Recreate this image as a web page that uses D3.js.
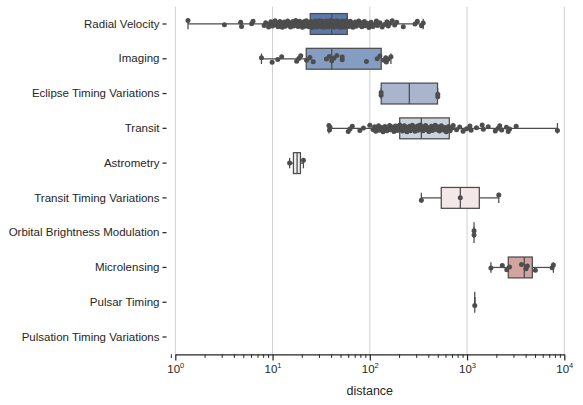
<!DOCTYPE html>
<html>
<head>
<meta charset="utf-8">
<script src="https://cdn.jsdelivr.net/npm/d3@7"></script>
<style>
  body { margin: 0; background: #fff; }
  svg { font-family: "Liberation Sans", Arial, sans-serif; }
</style>
</head>
<body>
<div id="chart"></div>
<script>

//************************  data *************************

var methods = ["Radial Velocity", "Imaging", "Eclipse Timing Variations", "Transit",
    "Astrometry", "Transit Timing Variations", "Orbital Brightness Modulation",
    "Microlensing", "Pulsar Timing", "Pulsation Timing Variations"];

var boxColors = ["#5b79a9", "#859dc3", "#a8b5cd", "#cbd2e0", "#eeeeee",
    "#f3e7e7", "#ecd4d3", "#d2a3a1", "#c07f7d", "#b05e5c"];

// box stats (whiskers span min..max)
var whiskerLo = [1.35, 7.69, 130.72, 38, 14.98, 339, 1180, 1760, 1200, null];
var quart1    = [24.4, 22.2, 131, 203, 16.4, 543, 1180, 2654, 1200, null];
var medians   = [40.6, 40.6, 255, 339, 17.88, 853, 1180, 3878, 1200, null];
var quart3    = [58.7, 131, 497, 657, 19.35, 1337, 1180, 4690, 1200, null];
var whiskerHi = [354, 165, 500, 8500, 20.77, 2119, 1180, 7720, 1200, null];

// strip points (distance, parsecs)
var rvDist = [1.35, 3.2, 4.7, 4.8, 6.1, 6.3, 8.2, 8.5, 9.1, 9.3, 9.6, 10.0, 10.3, 10.6,
    10.9, 11.1, 11.4, 11.6, 11.9, 12.1, 12.4, 12.6, 13.0, 13.2, 13.5, 14.0, 14.3, 14.6,
    15.1, 15.3, 15.6, 16.2, 16.5, 16.8, 17.3, 17.6, 17.9, 18.3, 18.7, 19.0, 19.4, 19.7,
    20.3, 20.6, 21.0, 21.6, 21.9, 22.2, 23.0, 23.3, 23.6, 24.1, 24.6, 25.0, 25.3, 25.5,
    26.0, 26.4, 26.7, 27.0, 27.5, 27.8, 28.0, 28.5, 28.8, 29.0, 29.6, 30.1, 30.4, 30.6,
    31.1, 31.7, 32.0, 32.2, 32.8, 33.4, 33.7, 34.0, 34.6, 35.2, 35.5, 35.8, 36.4, 37.0,
    37.3, 37.6, 38.1, 38.7, 39.2, 39.5, 39.8, 40.3, 40.9, 41.5, 41.8, 42.1, 42.7, 43.4,
    43.7, 44.0, 44.6, 45.3, 45.6, 46.0, 46.6, 47.3, 47.6, 48.0, 48.7, 49.4, 49.8, 50.1,
    50.9, 51.6, 52.0, 52.4, 53.2, 54.0, 54.4, 54.8, 55.6, 56.5, 57.0, 57.4, 58.3, 59.5,
    61, 62, 63, 65, 66, 67, 69, 71, 72, 74, 77, 79, 80, 83, 86, 88, 90, 94, 98, 101,
    103, 108, 114, 117, 120, 127, 134, 142, 150, 155, 160, 170, 180, 189, 221, 292, 308,
    340, 354];
var imagingDist = [7.69, 9.9, 11.3, 12.4, 17.7, 18.6, 19.5, 22.4, 24.2, 26.2, 35.8, 38.3,
    40.6, 42.9, 45.8, 52.0, 52.0, 92.3, 119, 127, 140, 146, 148, 154, 165];
var etvDist = [130.72, 130.72, 500, 500];
var transitDist = [38, 38.5, 39, 60, 62.6, 66, 79, 86, 100, 108, 112, 115, 120, 123, 126,
    131, 137, 140, 143, 150, 156, 160, 163, 170, 177, 180, 184, 191, 198, 203, 207, 213,
    217, 220, 227, 234, 238, 241, 249, 257, 261, 265, 274, 283, 288, 292, 301, 310, 315,
    320, 330, 337, 345, 352, 360, 375, 382, 390, 405, 420, 430, 440, 460, 470, 480, 500,
    520, 530, 545, 570, 595, 610, 620, 645, 670, 700, 720, 780, 840, 910, 990, 1070, 1100,
    1250, 1430, 1470, 1650, 1950, 2090, 2170, 2270, 2540, 2650, 2740, 3200, 8500];
var astrometryDist = [14.98, 20.77];
var ttvDist = [339, 852, 2119];
var obmDist = [1180, 1180];
var microDist = [1760, 2303, 2560, 2730, 3630, 4040, 4160, 5040, 7500, 7720];
var pulsarDist = [1200];
var pulsationDist = [];

var pointLists = [rvDist, imagingDist, etvDist, transitDist, astrometryDist, ttvDist,
    obmDist, microDist, pulsarDist, pulsationDist];

var majorTicks = [1, 10, 100, 1000, 10000];
var minorTicks = [0.9, 2, 3, 4, 5, 6, 7, 8, 9, 20, 30, 40, 50, 60, 70, 80, 90,
    200, 300, 400, 500, 600, 700, 800, 900, 2000, 3000, 4000, 5000, 6000, 7000, 8000, 9000];


//************************  chart *************************

var width = 583, height = 405;
var plotTop = 6.6, plotBottom = 354.4, axisLeftX = 166.5;

var svg = d3.select("#chart").append("svg")
    .attr("width", width)
    .attr("height", height);

var x = d3.scaleLog()
    .domain([1, 10000])
    .range([175.3, 564.3]);

var y = d3.scaleBand()
    .domain(methods)
    .range([plotTop, plotBottom])
    .padding(0);

var bw = y.bandwidth();
var boxH = bw * 0.6;
var capH = bw * 0.3;
var lineCol = "#4c4c4c";

// grid
svg.append("g").selectAll("line")
    .data(majorTicks)
    .enter().append("line")
    .attr("x1", function(d){ return x(d); })
    .attr("x2", function(d){ return x(d); })
    .attr("y1", plotTop)
    .attr("y2", plotBottom)
    .attr("stroke", "#cfcfcf")
    .attr("stroke-width", 1);

// boxes
var rows = methods.map(function(m, i){
    return {m: m, i: i, lo: whiskerLo[i], q1: quart1[i], med: medians[i], q3: quart3[i], hi: whiskerHi[i]};
}).filter(function(d){ return d.med != null; });

var boxG = svg.append("g").selectAll("g")
    .data(rows)
    .enter().append("g")
    .attr("transform", function(d){ return "translate(0," + (y(d.m) + bw / 2) + ")"; });

boxG.append("line")
    .attr("x1", function(d){ return x(d.lo); })
    .attr("x2", function(d){ return x(d.q1); })
    .attr("stroke", lineCol).attr("stroke-width", 1.25);
boxG.append("line")
    .attr("x1", function(d){ return x(d.q3); })
    .attr("x2", function(d){ return x(d.hi); })
    .attr("stroke", lineCol).attr("stroke-width", 1.25);

// caps
[function(d){ return x(d.lo); }, function(d){ return x(d.hi); }].forEach(function(fx){
    boxG.append("line")
        .attr("x1", fx).attr("x2", fx)
        .attr("y1", -capH / 2).attr("y2", capH / 2)
        .attr("stroke", lineCol).attr("stroke-width", 1.25);
});

boxG.append("rect")
    .attr("x", function(d){ return x(d.q1); })
    .attr("y", -boxH / 2)
    .attr("width", function(d){ return x(d.q3) - x(d.q1); })
    .attr("height", boxH)
    .attr("fill", function(d){ return boxColors[d.i]; })
    .attr("stroke", lineCol)
    .attr("stroke-width", 1.25);

boxG.append("line")
    .attr("x1", function(d){ return x(d.med); })
    .attr("x2", function(d){ return x(d.med); })
    .attr("y1", -boxH / 2)
    .attr("y2", boxH / 2)
    .attr("stroke", lineCol).attr("stroke-width", 1.25);

// strip points with a fixed (non random) jitter
var pts = [];
pointLists.forEach(function(list, i){
    list.forEach(function(v, j){
        var jit = ((j * 0.6180339 + i * 0.37) % 1) - 0.5;
        pts.push({m: methods[i], v: v, j: jit});
    });
});

svg.append("g").selectAll("circle")
    .data(pts)
    .enter().append("circle")
    .attr("cx", function(d){ return x(d.v); })
    .attr("cy", function(d){ return y(d.m) + bw / 2 + d.j * 0.2 * bw; })
    .attr("r", 2.5)
    .attr("fill", "#4d4d4d");

// x axis (spine trimmed to the major ticks)
var xAxis = d3.axisBottom(x)
    .tickValues(majorTicks)
    .tickSize(6)
    .tickSizeOuter(0)
    .tickPadding(4)
    .tickFormat(function(){ return ""; });

var xg = svg.append("g")
    .attr("transform", "translate(0," + plotBottom + ")")
    .call(xAxis);
xg.select(".domain").attr("stroke", "#262626").attr("stroke-width", 1.25);
xg.selectAll(".tick line").attr("stroke", "#262626").attr("stroke-width", 1.25);

xg.selectAll(".tick text")
    .attr("fill", "#262626")
    .style("font-size", "11.5px")
    .each(function(d){
        var t = d3.select(this);
        t.append("tspan").text("10");
        t.append("tspan").text(Math.round(Math.log10(d)))
            .attr("dy", "-0.6em")
            .style("font-size", "7.5px");
    });

var minorAxis = d3.axisBottom(x)
    .tickValues(minorTicks)
    .tickSize(3.5)
    .tickSizeOuter(0)
    .tickFormat(function(){ return ""; });

var mg = svg.append("g")
    .attr("transform", "translate(0," + plotBottom + ")")
    .call(minorAxis);
mg.select(".domain").remove();
mg.selectAll(".tick line").attr("stroke", "#262626").attr("stroke-width", 1);

svg.append("text")
    .attr("x", (x(1) + x(10000)) / 2)
    .attr("y", 395)
    .attr("text-anchor", "middle")
    .attr("fill", "#262626")
    .style("font-size", "12.5px")
    .text("distance");

// y axis (no spine, ticks only)
var yAxis = d3.axisLeft(y)
    .tickSize(4)
    .tickPadding(3);

var yg = svg.append("g")
    .attr("transform", "translate(" + axisLeftX + ",0)")
    .call(yAxis);
yg.select(".domain").remove();
yg.selectAll(".tick line").attr("stroke", "#262626").attr("stroke-width", 1.25);
yg.selectAll(".tick text")
    .attr("fill", "#262626")
    .style("font-size", "11.5px");

</script>
</body>
</html>
